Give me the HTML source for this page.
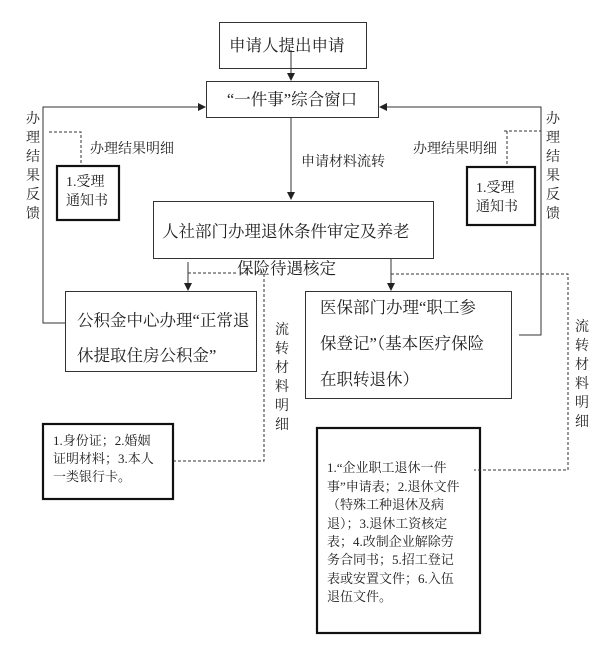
<!DOCTYPE html>
<html><head><meta charset="utf-8"><style>
html,body{margin:0;padding:0;background:#fff;}
svg{display:block;}
text{font-family:"Liberation Serif","Noto Serif CJK SC","Noto Sans CJK SC",serif;fill:#222;}
</style></head><body>
<svg width="609" height="654" viewBox="0 0 609 654" xmlns="http://www.w3.org/2000/svg">
<defs><marker id="a" markerWidth="8" markerHeight="8" refX="7" refY="4" orient="auto" markerUnits="userSpaceOnUse"><path d="M0,0 L8,4 L0,8 Z" fill="#222"/></marker></defs>
<g fill="none" stroke="#333" stroke-width="1">
<rect x="219.5" y="22.5" width="147" height="46"/>
<rect x="206.5" y="81.5" width="172" height="36"/>
<rect x="153.5" y="201.5" width="280" height="57"/>
<rect x="65.5" y="291.5" width="191" height="80"/>
<rect x="305.5" y="291.5" width="206" height="107"/>
</g>
<g fill="none" stroke="#111" stroke-width="2.2">
<rect x="57" y="166" width="62" height="54"/>
<rect x="467" y="167" width="68" height="58"/>
<rect x="43" y="424" width="130" height="75"/>
<rect x="317" y="428" width="163" height="205"/>
</g>
<g fill="none" stroke="#333" stroke-width="1">
<line x1="291" y1="50" x2="291" y2="80" marker-end="url(#a)"/>
<line x1="291" y1="118" x2="291" y2="199" marker-end="url(#a)"/>
<polyline points="65,323 43,323 43,107 205,107" marker-end="url(#a)"/>
<polyline points="519,335 541,335 541,107 380,107" marker-end="url(#a)"/>
<line x1="188" y1="262" x2="188" y2="290" marker-end="url(#a)"/>
<line x1="391" y1="259" x2="391" y2="290" marker-end="url(#a)"/>
</g>
<g fill="none" stroke="#333" stroke-width="1" stroke-dasharray="3,2">
<polyline points="49,132 81,132 81,163"/>
<polyline points="504,131 541,131"/>
<polyline points="507,131 507,165"/>
<polyline points="188,273 237,273"/>
<polyline points="240,273 264,273 264,461 174,461"/>
<polyline points="391,274 568,274 568,470 474,470"/>
</g>
<g font-size="16.5">
<text x="229" y="51">申请人提出申请</text>
<text x="292" y="105" text-anchor="middle">“一件事”综合窗口</text>
<text x="162" y="237">人社部门办理退休条件审定及养老</text>
<text x="77" y="326">公积金中心办理“正常退</text>
<text x="77" y="361">休提取住房公积金”</text>
<text x="320" y="313">医保部门办理“职工参</text>
<text x="320" y="349">保登记”（基本医疗保险</text>
<text x="320" y="385">在职转退休）</text>
<text x="237" y="274">保险待遇核定</text>
</g>
<g font-size="14">
<text x="90" y="153">办理结果明细</text>
<text x="413" y="153">办理结果明细</text>
<text x="301" y="166">申请材料流转</text>
<text x="66" y="186">1.受理</text>
<text x="66" y="205">通知书</text>
<text x="476" y="192">1.受理</text>
<text x="476" y="211">通知书</text>
</g>
<g font-size="14" text-anchor="middle">
<text x="33" y="123">办</text><text x="33" y="142">理</text><text x="33" y="161">结</text><text x="33" y="180">果</text><text x="33" y="199">反</text><text x="33" y="218">馈</text>
<text x="553" y="123">办</text><text x="553" y="142">理</text><text x="553" y="161">结</text><text x="553" y="180">果</text><text x="553" y="199">反</text><text x="553" y="218">馈</text>
<text x="282" y="334">流</text><text x="282" y="353">转</text><text x="282" y="372">材</text><text x="282" y="391">料</text><text x="282" y="410">明</text><text x="282" y="429">细</text>
<text x="582" y="331">流</text><text x="582" y="350">转</text><text x="582" y="369">材</text><text x="582" y="388">料</text><text x="582" y="407">明</text><text x="582" y="426">细</text>
</g>
<g font-size="13">
<text x="53" y="445">1.身份证；2.婚姻</text>
<text x="53" y="463">证明材料；3.本人</text>
<text x="53" y="481">一类银行卡。</text>
<text x="327" y="472">1.“企业职工退休一件</text>
<text x="327" y="491">事”申请表；2.退休文件</text>
<text x="327" y="509">（特殊工种退休及病</text>
<text x="327" y="528">退）；3.退休工资核定</text>
<text x="327" y="546">表；4.改制企业解除劳</text>
<text x="327" y="564">务合同书；5.招工登记</text>
<text x="327" y="583">表或安置文件；6.入伍</text>
<text x="327" y="601">退伍文件。</text>
</g>
</svg>
</body></html>
